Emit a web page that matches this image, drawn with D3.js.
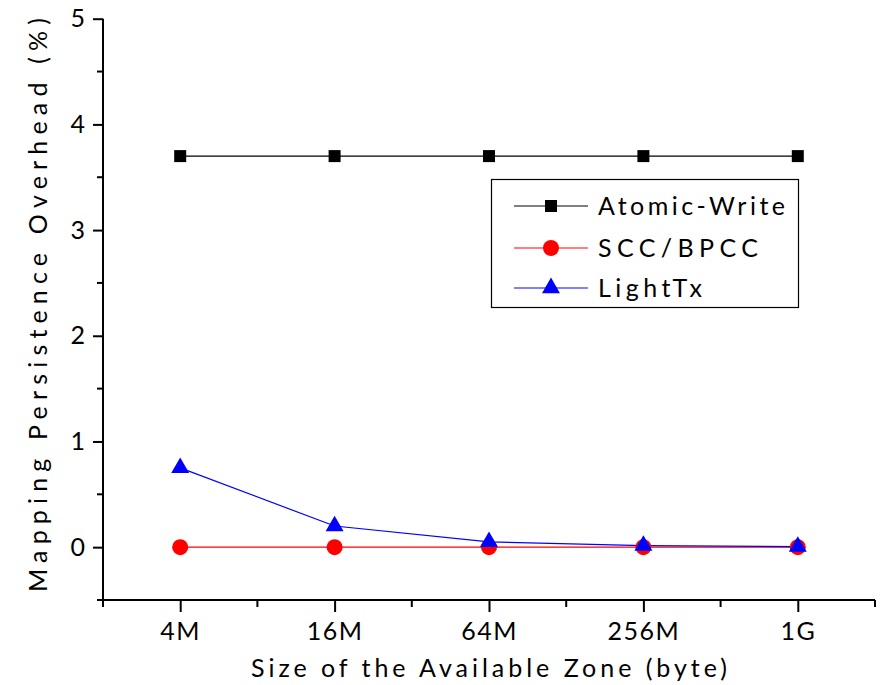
<!DOCTYPE html>
<html><head><meta charset="utf-8">
<script src="https://cdn.jsdelivr.net/npm/d3@7"></script>
<style>body{margin:0;background:#fff}svg{display:block}text{font-family:Lato,"Open Sans",sans-serif;fill:#000}</style>
</head><body><svg id="c" width="883" height="685"></svg>
<script>
const categories = ["4M","16M","64M","256M","1G"];
const atomicWrite = [3.7,3.7,3.7,3.7,3.7];
const sccBpcc = [0,0,0,0,0];
const lightTx = [0.75,0.2,0.05,0.015,0.005];
const yTicks = [0,1,2,3,4,5];
const seriesNames = ["Atomic-Write","SCC/BPCC","LightTx"];

const svg = d3.select("#c");
const L=103,R=875,T=18.7,B=600;
const x = d3.scaleLinear().domain([0.5,5.5]).range([L,R]);
const y = d3.scaleLinear().domain([-0.5,5]).range([B,T]);

// axes
const xAxis = d3.axisBottom(x).tickValues([1,2,3,4,5]).tickFormat(d=>categories[d-1]).tickSize(12).tickPadding(10).tickSizeOuter(0);
const gx = svg.append("g").attr("transform",`translate(0,${B})`).call(xAxis);
gx.select(".domain").attr("stroke-width",2).attr("d",`M${L},0H${R}`);
gx.selectAll(".tick line").attr("stroke-width",2);
gx.selectAll(".tick text").style("font-size","25px").attr("letter-spacing","1.5px");
svg.append("g").attr("transform",`translate(0,${B})`).selectAll("line").data([0.5,1.5,2.5,3.5,4.5,5.5]).join("line")
  .attr("x1",d=>x(d)).attr("x2",d=>x(d)).attr("y1",0).attr("y2",7).attr("stroke","#000").attr("stroke-width",2);

const yAxis = d3.axisLeft(y).tickValues(yTicks).tickFormat(d3.format("d")).tickSize(10).tickPadding(8).tickSizeOuter(0);
const gy = svg.append("g").attr("transform",`translate(${L},0)`).call(yAxis);
gy.select(".domain").attr("stroke-width",2).attr("d",`M0,${T}V${B+1}`);
gy.selectAll(".tick line").attr("stroke-width",2);
gy.selectAll(".tick text").style("font-size","25px");
svg.append("g").attr("transform",`translate(${L},0)`).selectAll("line").data([-0.5,0.5,1.5,2.5,3.5,4.5]).join("line")
  .attr("x1",-6).attr("x2",0).attr("y1",d=>y(d)).attr("y2",d=>y(d)).attr("stroke","#000").attr("stroke-width",2);

// titles
svg.append("text").attr("x",489).attr("y",677).attr("text-anchor","middle").style("font-size","25px")
  .attr("textLength",476).attr("lengthAdjust","spacing").text("Size of the Available Zone (byte)");
svg.append("text").attr("transform","translate(47,305) rotate(-90)").attr("text-anchor","middle").style("font-size","25px")
  .attr("textLength",574).attr("lengthAdjust","spacing").text("Mapping Persistence Overhead (%)");

const line = d3.line().x((d,i)=>x(i+1)).y(d=>y(d));
const series = [
  {name:seriesNames[0],vals:atomicWrite,color:"#000000",sym:d3.symbolSquare,size:144,len:187},
  {name:seriesNames[1],vals:sccBpcc,color:"#ff0000",sym:d3.symbolCircle,size:201,len:160},
  {name:seriesNames[2],vals:lightTx,color:"#0000ff",sym:d3.symbolTriangle,size:140,len:104}
];
series.forEach(s=>{
  svg.append("path").datum(s.vals).attr("d",line).attr("fill","none").attr("stroke",s.color).attr("stroke-width",1.2);
});
series.forEach(s=>{
  svg.append("g").selectAll("path").data(s.vals).join("path")
    .attr("transform",(d,i)=>`translate(${x(i+1)},${y(d)})`)
    .attr("d",d3.symbol().type(s.sym).size(s.size)).attr("fill",s.color);
});

// legend
const lg = svg.append("g");
lg.append("rect").attr("x",491.5).attr("y",179.5).attr("width",307).attr("height",128).attr("fill","#fff").attr("stroke","#000").attr("stroke-width",1.2);
const rows=[206,248,288];
series.forEach((s,i)=>{
  lg.append("line").attr("x1",514).attr("x2",588).attr("y1",rows[i]).attr("y2",rows[i]).attr("stroke",s.color).attr("stroke-width",1.2);
  lg.append("path").attr("transform",`translate(551,${rows[i]})`).attr("d",d3.symbol().type(s.sym).size(s.size)).attr("fill",s.color);
  lg.append("text").attr("x",598).attr("y",rows[i]+9).style("font-size","25px")
    .attr("textLength",s.len).attr("lengthAdjust","spacing").text(s.name);
});
</script></body></html>
